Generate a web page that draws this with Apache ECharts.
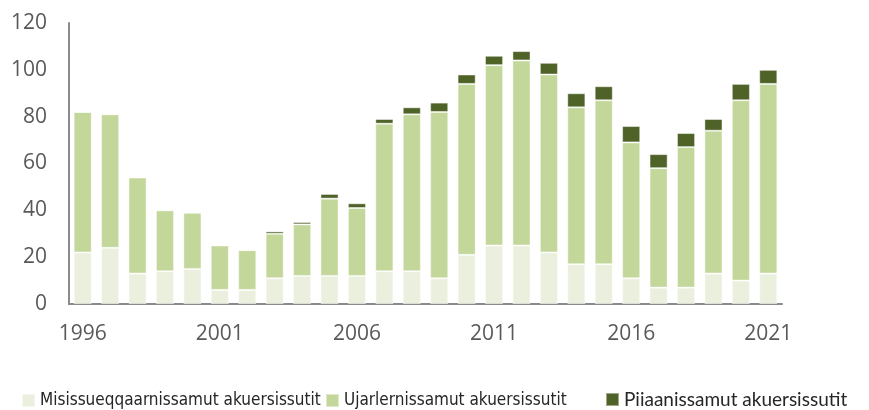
<!DOCTYPE html>
<html>
<head>
<meta charset="utf-8">
<script src="https://cdn.jsdelivr.net/npm/echarts@6/dist/echarts.min.js"></script>
<style>
  html, body { margin: 0; padding: 0; background: #fff; }
  #chart { width: 869px; height: 410px; }
</style>
</head>
<body>
<div id="chart"></div>
<script>
const years = ['1996', '1997', '1998', '1999', '2000', '2001', '2002', '2003', '2004', '2005',
  '2006', '2007', '2008', '2009', '2010', '2011', '2012', '2013', '2014', '2015',
  '2016', '2017', '2018', '2019', '2020', '2021'];

const misissueqqaarnissamut = [22, 24, 13, 14, 15, 6, 6, 11, 12, 12,
  12, 14, 14, 11, 21, 25, 25, 22, 17, 17,
  11, 7, 7, 13, 10, 13];
const ujarlernissamut = [60, 57, 41, 26, 24, 19, 17, 19, 22, 33,
  29, 63, 67, 71, 73, 77, 79, 76, 67, 70,
  58, 51, 60, 61, 77, 81];
const piiaanissamut = [0, 0, 0, 0, 0, 0, 0, 1, 1, 2,
  2, 2, 3, 4, 4, 4, 4, 5, 6, 6,
  7, 6, 6, 5, 7, 6];

const names = ['Misissueqqaarnissamut akuersissutit', 'Ujarlernissamut akuersissutit', 'Piiaanissamut akuersissutit'];
const colors = ['#EBF0DE', '#C4D79B', '#4F6228'];

const labelColor = '#595959';
const axisColor = '#8a8a8a';

const chart = echarts.init(document.getElementById('chart'), null, { renderer: 'canvas' });

const narrow = { fontFamily: 'DejaVu Sans Condensed', fontSize: 17, color: '#262626' };

chart.setOption({
  animation: false,
  color: colors,
  grid: { left: 69, right: 87, top: 23, bottom: 106 },
  legend: [
    { data: [names[0]], left: 16, top: 387, itemWidth: 13, itemHeight: 13,
      icon: 'rect', textStyle: narrow },
    { data: [names[1]], left: 320, top: 387, itemWidth: 13, itemHeight: 13,
      icon: 'rect', textStyle: narrow },
    { data: [names[2]], left: 600, top: 385, itemWidth: 13, itemHeight: 13,
      icon: 'rect', textStyle: { fontFamily: 'Lato', fontSize: 19, color: '#262626' } }
  ],
  xAxis: {
    type: 'category',
    data: years,
    axisLine: { lineStyle: { color: axisColor, width: 2 } },
    axisTick: { show: false },
    axisLabel: { interval: 4, color: labelColor, fontFamily: 'Open Sans', fontSize: 21, margin: 20 }
  },
  yAxis: {
    type: 'value',
    min: 0,
    max: 120,
    interval: 20,
    axisLine: { show: true, lineStyle: { color: axisColor, width: 2 } },
    axisTick: { show: false },
    splitLine: { show: false },
    axisLabel: { color: labelColor, fontFamily: 'Open Sans', fontSize: 21, margin: 22 }
  },
  series: [misissueqqaarnissamut, ujarlernissamut, piiaanissamut].map((d, i) => ({
    name: names[i],
    type: 'bar',
    stack: 'total',
    data: d,
    barCategoryGap: '34%',
    itemStyle: { color: colors[i], borderColor: 'rgba(255,255,255,0.45)', borderWidth: 1 }
  }))
});
</script>
</body>
</html>
